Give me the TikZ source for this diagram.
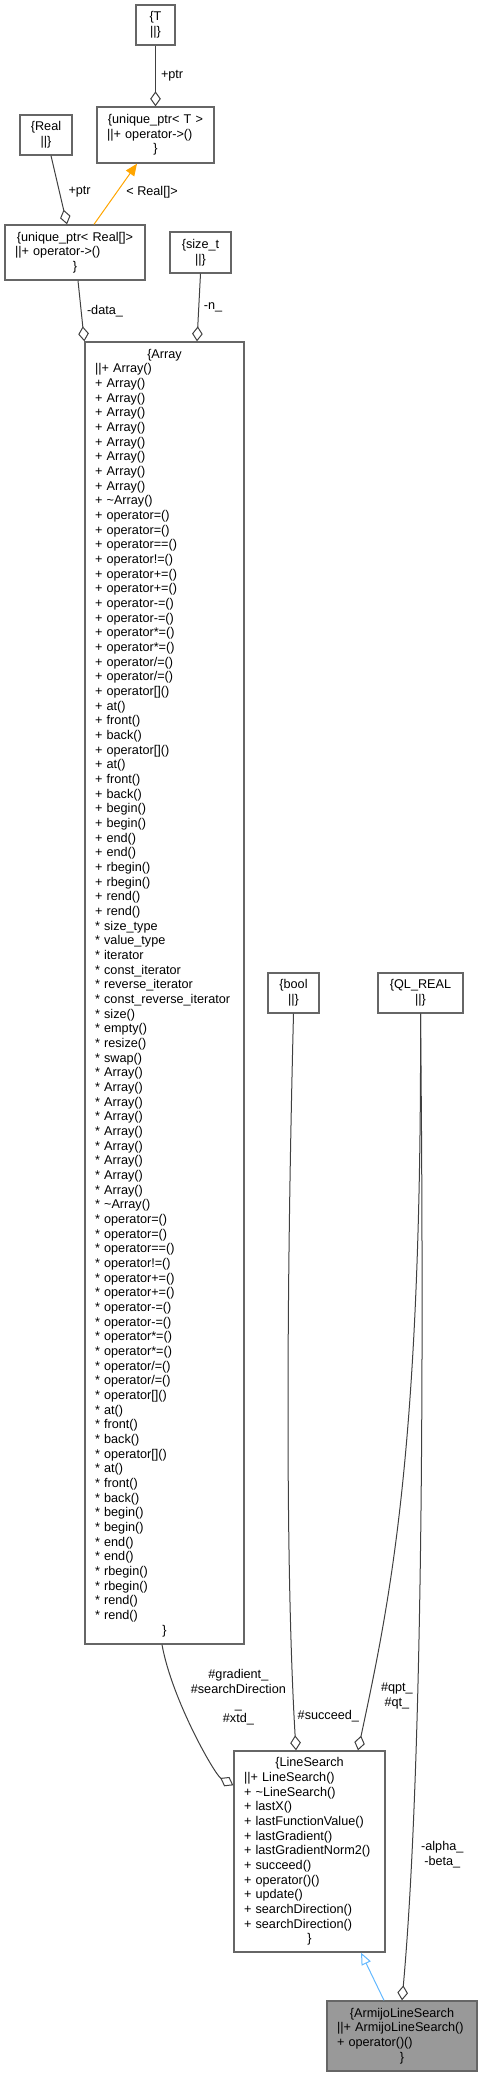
\documentclass[tikz,border=0pt]{standalone}
\usepackage{fontspec}
\setmainfont{Liberation Sans}
\usetikzlibrary{arrows.meta, calc}

\definecolor{boxgray}{HTML}{666666}
\definecolor{edgegray}{HTML}{404040}
\definecolor{mainfill}{HTML}{999999}
\definecolor{tmplorange}{HTML}{FFA500}
\definecolor{inhblue}{HTML}{63B8FF}

\newcommand{\ctr}[1]{\makebox[\linewidth]{#1}}

\begin{document}
\begin{tikzpicture}[x=0.75pt, y=-0.75pt, font=\fontsize{9.5pt}{11pt}\selectfont]
    \tikzstyle{cls} = [draw=boxgray, line width=1pt, fill=white, rectangle, inner xsep=0pt, inner ysep=0pt, align=left];
    \tikzstyle{agg} = [draw=edgegray, line width=0.75pt, -{Diamond[open, length=11.25pt, width=8pt]}];
    \tikzstyle{lbl} = [inner sep=0pt, align=center];
    \tikzset{dims/.style 2 args={minimum width=#1*0.75pt, text width={(#1-20)*0.75pt}, minimum height=#2*0.75pt}};

    \useasboundingbox (0,0) rectangle (483,2076);

    \node[cls, dims={39}{40}] (T) at (155.5,25) {\ctr{\{T}\\\ctr{||\}}};
    \node[cls, dims={117}{56}] (uptrT) at (155.5,135)
        {\ctr{\{unique\_ptr< T >}\\||+ operator->()\\\ctr{\}}};
    \node[cls, dims={52}{40}] (Real) at (46,135) {\ctr{\{Real}\\\ctr{||\}}};
    \node[cls, dims={140}{55}] (uptrReal) at (75,252.5)
        {\ctr{\{unique\_ptr< Real[]>}\\||+ operator->()\\\ctr{\}}};
    \node[cls, dims={61}{41}] (sizet) at (200.5,252.5) {\ctr{\{size\_t}\\\ctr{||\}}};

    \node[cls, dims={159}{1302}] (Array) at (164.5,993) {\ctr{\{Array}\\
        ||+ Array()\\+ Array()\\+ Array()\\+ Array()\\+ Array()\\+ Array()\\+ Array()\\+ Array()\\+ Array()\\
        + \textasciitilde Array()\\+ operator=()\\+ operator=()\\+ operator==()\\+ operator!=()\\
        + operator+=()\\+ operator+=()\\+ operator-=()\\+ operator-=()\\+ operator*=()\\+ operator*=()\\
        + operator/=()\\+ operator/=()\\+ operator[]()\\+ at()\\+ front()\\+ back()\\
        + operator[]()\\+ at()\\+ front()\\+ back()\\+ begin()\\+ begin()\\+ end()\\+ end()\\
        + rbegin()\\+ rbegin()\\+ rend()\\+ rend()\\
        {*} size\_type\\{*} value\_type\\{*} iterator\\{*} const\_iterator\\{*} reverse\_iterator\\
        {*} const\_reverse\_iterator\\{*} size()\\{*} empty()\\{*} resize()\\{*} swap()\\
        {*} Array()\\{*} Array()\\{*} Array()\\{*} Array()\\{*} Array()\\{*} Array()\\{*} Array()\\{*} Array()\\{*} Array()\\
        {*} \textasciitilde Array()\\{*} operator=()\\{*} operator=()\\{*} operator==()\\{*} operator!=()\\
        {*} operator+=()\\{*} operator+=()\\{*} operator-=()\\{*} operator-=()\\{*} operator*=()\\{*} operator*=()\\
        {*} operator/=()\\{*} operator/=()\\{*} operator[]()\\{*} at()\\{*} front()\\{*} back()\\
        {*} operator[]()\\{*} at()\\{*} front()\\{*} back()\\{*} begin()\\{*} begin()\\{*} end()\\{*} end()\\
        {*} rbegin()\\{*} rbegin()\\{*} rend()\\{*} rend()\\\ctr{\}}};

    \node[cls, dims={51}{40}] (bool) at (293.5,993) {\ctr{\{bool}\\\ctr{||\}}};
    \node[cls, dims={85}{40}] (qlreal) at (420.5,993) {\ctr{\{QL\_REAL}\\\ctr{||\}}};

    \node[cls, dims={151}{201}] (LS) at (309.5,1851.5) {\ctr{\{LineSearch}\\
        ||+ LineSearch()\\+ \textasciitilde LineSearch()\\+ lastX()\\+ lastFunctionValue()\\
        + lastGradient()\\+ lastGradientNorm2()\\+ succeed()\\+ operator()()\\+ update()\\
        + searchDirection()\\+ searchDirection()\\\ctr{\}}};
    \node[cls, dims={150}{70}, fill=mainfill] (Armijo) at (402,2036)
        {\ctr{\{ArmijoLineSearch}\\||+ ArmijoLineSearch()\\+ operator()()\\\ctr{\}}};

    \draw[agg] (T.south) -- node[lbl, pos=0.5, right=3.75pt] {+ptr} (uptrT.north);
    \draw[agg] ($(Real.south)+(5,0)$) -- node[lbl, pos=0.53, right=6.4pt] {+ptr} ($(uptrReal.north)+(-8,0)$);
    \draw[draw=tmplorange, line width=0.75pt, -{Triangle[length=9pt, width=7.5pt]}]
        ($(uptrReal.north)+(19,0)$) -- node[lbl, pos=0.53, right=6.8pt, text=black] {< Real[]>} ($(uptrT.south)+(-18.5,0)$);
    \draw[agg] ($(uptrReal.south)+(3,0)$) -- node[lbl, pos=0.5, right=4pt] {-data\_} (Array.north west);
    \draw[agg] (sizet.south) -- node[lbl, pos=0.5, right=3.4pt] {-n\_} ($(Array.north)+(32.5,0)$);

    \draw[agg] ($(Array.south)+(-2.5,0)$) .. controls (172,1700) and (215,1775) ..
        node[lbl, pos=0.3, right=9pt] {\#gradient\_\\\#searchDirection\\\_\\\#xtd\_} (LS.139);
    \draw[agg] (bool.south) .. controls (285,1350) and (287,1600) ..
        node[lbl, pos=0.928, right=2.3pt] {\#succeed\_} ($(LS.north)+(-13.5,0)$);
    \draw[agg] (qlreal.south) .. controls (422,1450) and (390,1600) ..
        node[lbl, pos=0.88, right=8.3pt] {\#qpt\_\\\#qt\_} ($(LS.north)+(48.5,0)$);
    \draw[agg] (qlreal.south) .. controls (425,1450) and (420,1800) ..
        node[lbl, pos=0.79, right=6.75pt] {-alpha\_\\-beta\_} (Armijo.north);

    \draw[draw=inhblue, line width=0.75pt, -{Triangle[open, length=9pt, width=7.5pt]}]
        ($(Armijo.north)+(-18,0)$) -- ($(LS.south)+(51.5,0)$);
\end{tikzpicture}
\end{document}
